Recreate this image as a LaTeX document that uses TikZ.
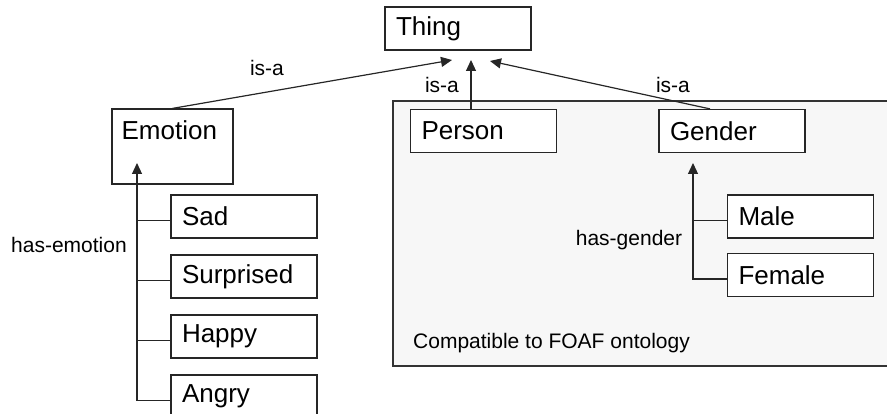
\documentclass[tikz,border=0pt]{standalone}
\usepackage{fontspec}
\setmainfont{Liberation Sans}
\usetikzlibrary{arrows.meta}

\tikzset{
  concept/.style={draw=black!85, line width=1.2pt, fill=white, minimum height=43pt,
    text width=124pt, inner xsep=11pt, align=left, font=\fontsize{26pt}{30pt}\selectfont},
  rel/.style={font=\fontsize{21pt}{25pt}\selectfont, inner sep=0pt},
  link/.style={draw=black!85, line width=1.2pt},
  isa/.style={link, -{Triangle[length=11pt,width=10pt]}}
}

\begin{document}
\begin{tikzpicture}[x=1pt, y=-1pt]
    \clip (0,0) rectangle (887,414);

    % FOAF compatible part
    \filldraw[fill=black!3, draw=black!80, line width=1.2pt] (393,101) rectangle (900,366);
    \node[rel, anchor=west] (foaf) at (413,343) {Compatible to FOAF ontology};

    \coordinate (tipL) at (452,60);
    \coordinate (tipM) at (471,60);
    \coordinate (tipR) at (490,61);
    \coordinate (emotip) at (137,163);
    \coordinate (gentip) at (693,163);

    \node[concept] (thing) at (458,28.5) {Thing};
    \node[draw=black!85, line width=1.2pt, fill=white, minimum width=121pt, minimum height=75pt,
      label={[font=\fontsize{26pt}{30pt}\selectfont, anchor=north west, inner xsep=10pt, inner ysep=12pt]north west:Emotion}]
      (emotion) at (172.5,146.5) {};
    \node[concept] (person) at (483.5,131) {Person};
    \node[concept] (gender) at (732,131) {Gender};

    \node[concept] (sad) at (244,216.5) {Sad};
    \node[concept] (surprised) at (244,276.5) {Surprised};
    \node[concept] (happy) at (244,336.5) {Happy};
    \node[concept] (angry) at (244,396.5) {Angry};
    \node[concept] (male) at (800.5,216.5) {Male};
    \node[concept] (female) at (800.5,275) {Female};

    % is-a links
    \draw[isa] (emotion.north) -- (tipL);
    \draw[isa] (person.north -| tipM) -- (tipM);
    \draw[isa] ([xshift=-22pt]gender.north) -- (tipR);
    \node[rel] (isaL) at (267,68) {is-a};
    \node[rel] (isaM) at (442,85) {is-a};
    \node[rel] (isaR) at (673,85) {is-a};

    % has-emotion
    \draw[isa] ([yshift=-4pt]angry.west) -| (emotip);
    \foreach \n in {sad,surprised,happy}
        \draw[link] ([yshift=-4pt]\n.west) -- ([yshift=-4pt]emotip |- \n.west);
    \node[rel] (hasemo) at (69,245) {has-emotion};

    % has-gender
    \draw[isa] ([yshift=-4pt]female.west) -| (gentip);
    \draw[link] ([yshift=-4pt]male.west) -- ([yshift=-4pt]gentip |- male.west);
    \node[rel] (hasgen) at (629,240) {has-gender};
\end{tikzpicture}
\end{document}
